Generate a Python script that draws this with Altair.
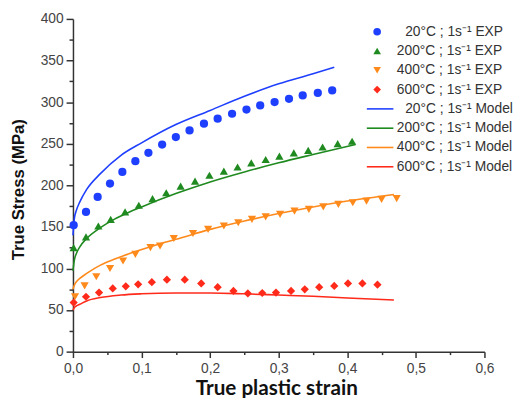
import altair as alt
import pandas as pd

temps = ["20°C", "200°C", "400°C", "600°C"]
colors = ["#1f3fff", "#1f8a1f", "#ff8a1c", "#ff2a1a"]
shapes = ["circle", "triangle-up", "triangle-down", "diamond"]

# Experimental points (EXP)
strain_20_exp = [0.001, 0.019, 0.036, 0.054, 0.072, 0.091, 0.110, 0.130, 0.150, 0.170,
                 0.191, 0.211, 0.232, 0.253, 0.273, 0.294, 0.315, 0.335, 0.357, 0.378]
stress_20_exp = [152, 168, 186, 202, 216, 229, 239, 249, 258, 266,
                 274, 280, 286, 291, 296, 300, 304, 308, 311, 314]

strain_200_exp = [0.001, 0.019, 0.037, 0.055, 0.076, 0.096, 0.116, 0.136, 0.157, 0.178,
                  0.199, 0.220, 0.240, 0.260, 0.281, 0.301, 0.322, 0.343, 0.364, 0.386, 0.407]
stress_200_exp = [125, 138, 151, 159, 168, 176, 184, 191, 199, 205,
                  212, 217, 222, 227, 231, 235, 239, 242, 246, 250, 253]

strain_400_exp = [0.003, 0.017, 0.034, 0.054, 0.073, 0.091, 0.113, 0.127, 0.147, 0.175,
                  0.197, 0.220, 0.241, 0.261, 0.281, 0.302, 0.323, 0.344, 0.365, 0.387,
                  0.408, 0.428, 0.450, 0.472]
stress_400_exp = [66, 79, 90, 100, 109, 117, 125, 127, 136, 142,
                  147, 151, 155, 159, 162, 165, 169, 171, 174, 177,
                  179, 181, 183, 184]

strain_600_exp = [0.001, 0.019, 0.038, 0.058, 0.077, 0.095, 0.115, 0.137, 0.163, 0.187,
                  0.211, 0.234, 0.255, 0.276, 0.296, 0.318, 0.338, 0.359, 0.381, 0.401,
                  0.422, 0.444]
stress_600_exp = [59, 66, 71, 76, 78.5, 81, 83.5, 86.5, 86.5, 82,
                  77.5, 73, 70, 70.5, 71, 73, 75, 77.5, 79, 82,
                  82, 80.5]

# Model curves
strain_20_mod = [0.0, 0.002, 0.005, 0.01, 0.02, 0.04, 0.07, 0.1, 0.15, 0.2,
                 0.25, 0.3, 0.35, 0.381]
stress_20_mod = [140, 160, 170, 180, 195, 214, 236, 251, 273, 290,
                 307, 322, 334, 342]

strain_200_mod = [0.0, 0.002, 0.005, 0.01, 0.02, 0.04, 0.06, 0.08, 0.1, 0.15,
                  0.2, 0.25, 0.3, 0.35, 0.412]
stress_200_mod = [97, 110, 118, 126, 136, 149, 159, 167, 174, 190,
                  204, 216, 227, 237, 249]

strain_400_mod = [0.0, 0.002, 0.005, 0.01, 0.02, 0.04, 0.06, 0.09, 0.12, 0.15,
                  0.2, 0.25, 0.3, 0.35, 0.4, 0.468]
stress_400_mod = [75, 80, 84, 88, 94, 104, 111, 120, 128, 135,
                  147, 157, 166, 174, 181, 189]

strain_600_mod = [0.0, 0.002, 0.005, 0.01, 0.02, 0.04, 0.07, 0.1, 0.15, 0.2,
                  0.25, 0.3, 0.35, 0.4, 0.468]
stress_600_mod = [50, 53, 55, 57, 61, 65, 68, 69.5, 70.5, 70.5,
                  69.5, 68, 66.5, 64.5, 62]

x_ticks = [0.0, 0.1, 0.2, 0.3, 0.4, 0.5, 0.6]
x_minor = [0.05, 0.15, 0.25, 0.35, 0.45, 0.55]
y_ticks = [0, 50, 100, 150, 200, 250, 300, 350, 400]
y_minor = [25, 75, 125, 175, 225, 275, 325, 375]

exp_sets = [(strain_20_exp, stress_20_exp), (strain_200_exp, stress_200_exp),
            (strain_400_exp, stress_400_exp), (strain_600_exp, stress_600_exp)]
mod_sets = [(strain_20_mod, stress_20_mod), (strain_200_mod, stress_200_mod),
            (strain_400_mod, stress_400_mod), (strain_600_mod, stress_600_mod)]

exp_rows, mod_rows = [], []
for t, (xs, ys) in zip(temps, exp_sets):
    for x, y in zip(xs, ys):
        exp_rows.append({"temp": t, "strain": x, "stress": y})
for t, (xs, ys) in zip(temps, mod_sets):
    for i, (x, y) in enumerate(zip(xs, ys)):
        mod_rows.append({"temp": t, "strain": x, "stress": y, "idx": i})
exp_df = pd.DataFrame(exp_rows)
mod_df = pd.DataFrame(mod_rows)

leg_rows = []
for i, t in enumerate(temps):
    leg_rows.append({"temp": t, "kind": "EXP", "row": i, "label": f"{t} ; 1s⁻¹ EXP"})
for i, t in enumerate(temps):
    leg_rows.append({"temp": t, "kind": "Model", "row": i + 4, "label": f"{t} ; 1s⁻¹ Model"})
leg_df = pd.DataFrame(leg_rows)

xscale = alt.Scale(domain=[0, 0.6], nice=False)
yscale = alt.Scale(domain=[0, 400], nice=False)
color = alt.Color("temp:N", scale=alt.Scale(domain=temps, range=colors), legend=None)
shape = alt.Shape("temp:N", scale=alt.Scale(domain=temps, range=shapes), legend=None)

axis_common = dict(domainColor="#333333", domainWidth=1.5, tickColor="#333333",
                   tickWidth=1.5, grid=False, labelFont="Liberation Sans",
                   labelFontSize=14, labelColor="#444444", labelFlush=False,
                   labelOverlap=False)

xaxis = alt.Axis(values=x_ticks, labelExpr="replace(format(datum.value, '.1f'), '.', ',')",
                 tickSize=6, labelPadding=4, title="True plastic strain",
                 titleFont="Lato", titleFontSize=21, titleFontWeight="bold", titleColor="#111111",
                 titleX=206.5, titleY=44, titleBaseline="alphabetic", titleAlign="center",
                 **axis_common)
yaxis = alt.Axis(values=y_ticks, tickSize=7, labelPadding=3, title="True Stress (MPa)",
                 titleFont="Liberation Sans", titleFontSize=17, titleFontWeight="bold",
                 titleColor="#111111", titleAngle=270, titleX=-55, titleY=173,
                 titleAlign="center", titleBaseline="middle", **axis_common)

xaxis_minor = alt.Axis(values=x_minor, labels=False, tickSize=3, domain=False, title=None,
                       orient="bottom", grid=False, tickColor="#333333", tickWidth=1.5)
yaxis_minor = alt.Axis(values=y_minor, labels=False, tickSize=4, domain=False, title=None,
                       orient="left", grid=False, tickColor="#333333", tickWidth=1.5)

lines = alt.Chart(mod_df).mark_line(strokeWidth=1.6, interpolate="monotone").encode(
    x=alt.X("strain:Q", scale=xscale, axis=xaxis),
    y=alt.Y("stress:Q", scale=yscale, axis=yaxis),
    color=color,
    order="idx:Q",
)

points = alt.Chart(exp_df).mark_point(filled=True, opacity=1, size=70).encode(
    x=alt.X("strain:Q", scale=xscale, axis=xaxis_minor),
    y=alt.Y("stress:Q", scale=yscale, axis=yaxis_minor),
    color=color,
    shape=shape,
)

leg_base = alt.Chart(leg_df).transform_calculate(
    ypx="13 + datum.row * 19.6",
    sx="309",
    lx0="298.5",
    lx1="325.5",
    tx="datum.temp == '20°C' ? 337.5 : 329",
)

leg_sym = leg_base.transform_filter("datum.kind == 'EXP'").mark_point(
    filled=True, opacity=1, size=60).encode(
    x=alt.X("sx:Q", scale=None, axis=None),
    y=alt.Y("ypx:Q", scale=None, axis=None),
    color=color,
    shape=shape,
)

leg_line = leg_base.transform_filter("datum.kind == 'Model'").mark_rule(strokeWidth=1.6).encode(
    x=alt.X("lx0:Q", scale=None, axis=None),
    x2="lx1:Q",
    y=alt.Y("ypx:Q", scale=None, axis=None),
    color=color,
)

leg_text = leg_base.mark_text(align="left", baseline="middle", font="Liberation Sans",
                              fontSize=14, color="#333333").encode(
    x=alt.X("tx:Q", scale=None, axis=None),
    y=alt.Y("ypx:Q", scale=None, axis=None),
    text="label:N",
)

chart = alt.layer(lines, points, leg_sym, leg_line, leg_text).resolve_axis(
    x="independent", y="independent"
).properties(
    width=418, height=338,
    autosize=alt.AutoSizeParams(type="none"),
    padding={"left": 66, "top": 8, "right": 29, "bottom": 44},
    background="white",
).configure_view(stroke=None)

chart.save("out.html", embed_options={"renderer": "svg", "actions": False})
